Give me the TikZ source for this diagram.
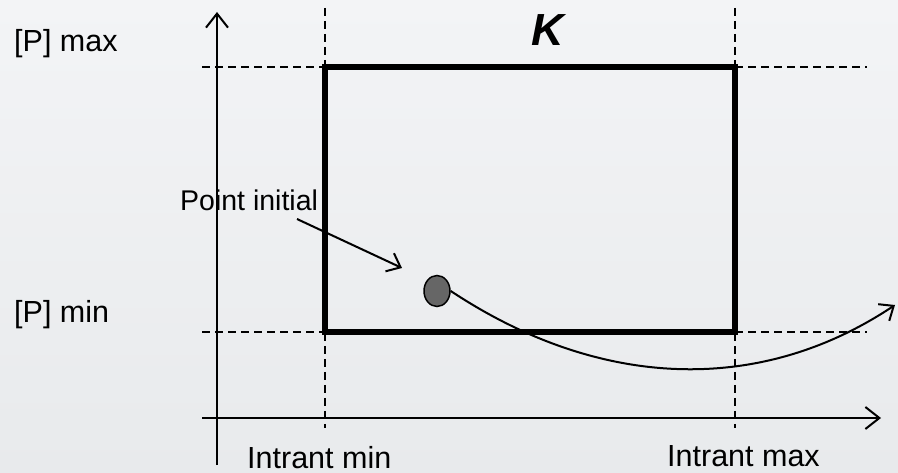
\documentclass[tikz,border=0pt]{standalone}
\usepackage{fontspec}
\setmainfont{Liberation Sans}
\usetikzlibrary{arrows.meta,shapes.geometric}
\definecolor{bgtop}{HTML}{F3F4F6}
\definecolor{bgbot}{HTML}{E8EAEC}
\definecolor{dotgray}{HTML}{666666}
\begin{document}
\begin{tikzpicture}[x=1pt,y=-1pt,
  lbl/.style={inner sep=0pt,anchor=base west,font=\fontsize{30.5pt}{36pt}\selectfont},
  axisline/.style={line width=2pt,-{Straight Barb[length=14pt,width=22pt,line width=2pt]}},
  guide/.style={line width=1.5pt,dash pattern=on 8pt off 5pt},
  kbox/.style={draw,line width=6pt,minimum width=410pt,minimum height=265pt,inner sep=0pt},
  ptarrow/.style={line width=2pt,-{Straight Barb[length=12pt,width=20pt,line width=2pt]}}]
\useasboundingbox (0,0) rectangle (898,473);
\shade[top color=bgtop,bottom color=bgbot] (0,0) rectangle (898,473);
% guides
\coordinate (v1t) at (325,8); \coordinate (v1b) at (325,428);
\coordinate (v2t) at (735,8); \coordinate (v2b) at (735,428);
\coordinate (h1l) at (202,67); \coordinate (h1r) at (867,67);
\coordinate (h2l) at (202,332); \coordinate (h2r) at (867,332);
\draw[guide] (v1t) -- (v1b);
\draw[guide] (v2t) -- (v2b);
\draw[guide] (h1l) -- (h1r);
\draw[guide] (h2l) -- (h2r);
% axes
\coordinate (yb) at (217,465); \coordinate (yt) at (217,12);
\coordinate (xl) at (202,418); \coordinate (xr) at (881,418);
\draw[axisline] (yb) -- (yt);
\draw[axisline] (xl) -- (xr);
% box
\node[kbox] (box) at (530,199.5) {};
\node[inner sep=0pt,font=\fontsize{45pt}{50pt}\selectfont\bfseries\itshape] (K) at (548,30) {K};
% labels
\node[lbl] (pmax) at (14,52) {[P] max};
\node[lbl] (pmin) at (14,323) {[P] min};
\node[lbl,font=\fontsize{28.5pt}{34pt}\selectfont] (pinit) at (180,211) {Point initial};
\node[lbl] (imin) at (247,468) {Intrant min};
\node[lbl] (imax) at (667,466) {Intrant max};
% point
\node[ellipse,draw,line width=1.5pt,fill=dotgray,minimum width=26pt,minimum height=31pt,inner sep=0pt] (pt) at (437,291) {};
\coordinate (as) at (297,219); \coordinate (ae) at (402,268);
\draw[ptarrow] (as) -- (ae);
\coordinate (tend) at (895,305);
\draw[ptarrow] (pt.east) .. controls (600,390) and (760,395) .. (tend);
\end{tikzpicture}
\end{document}
